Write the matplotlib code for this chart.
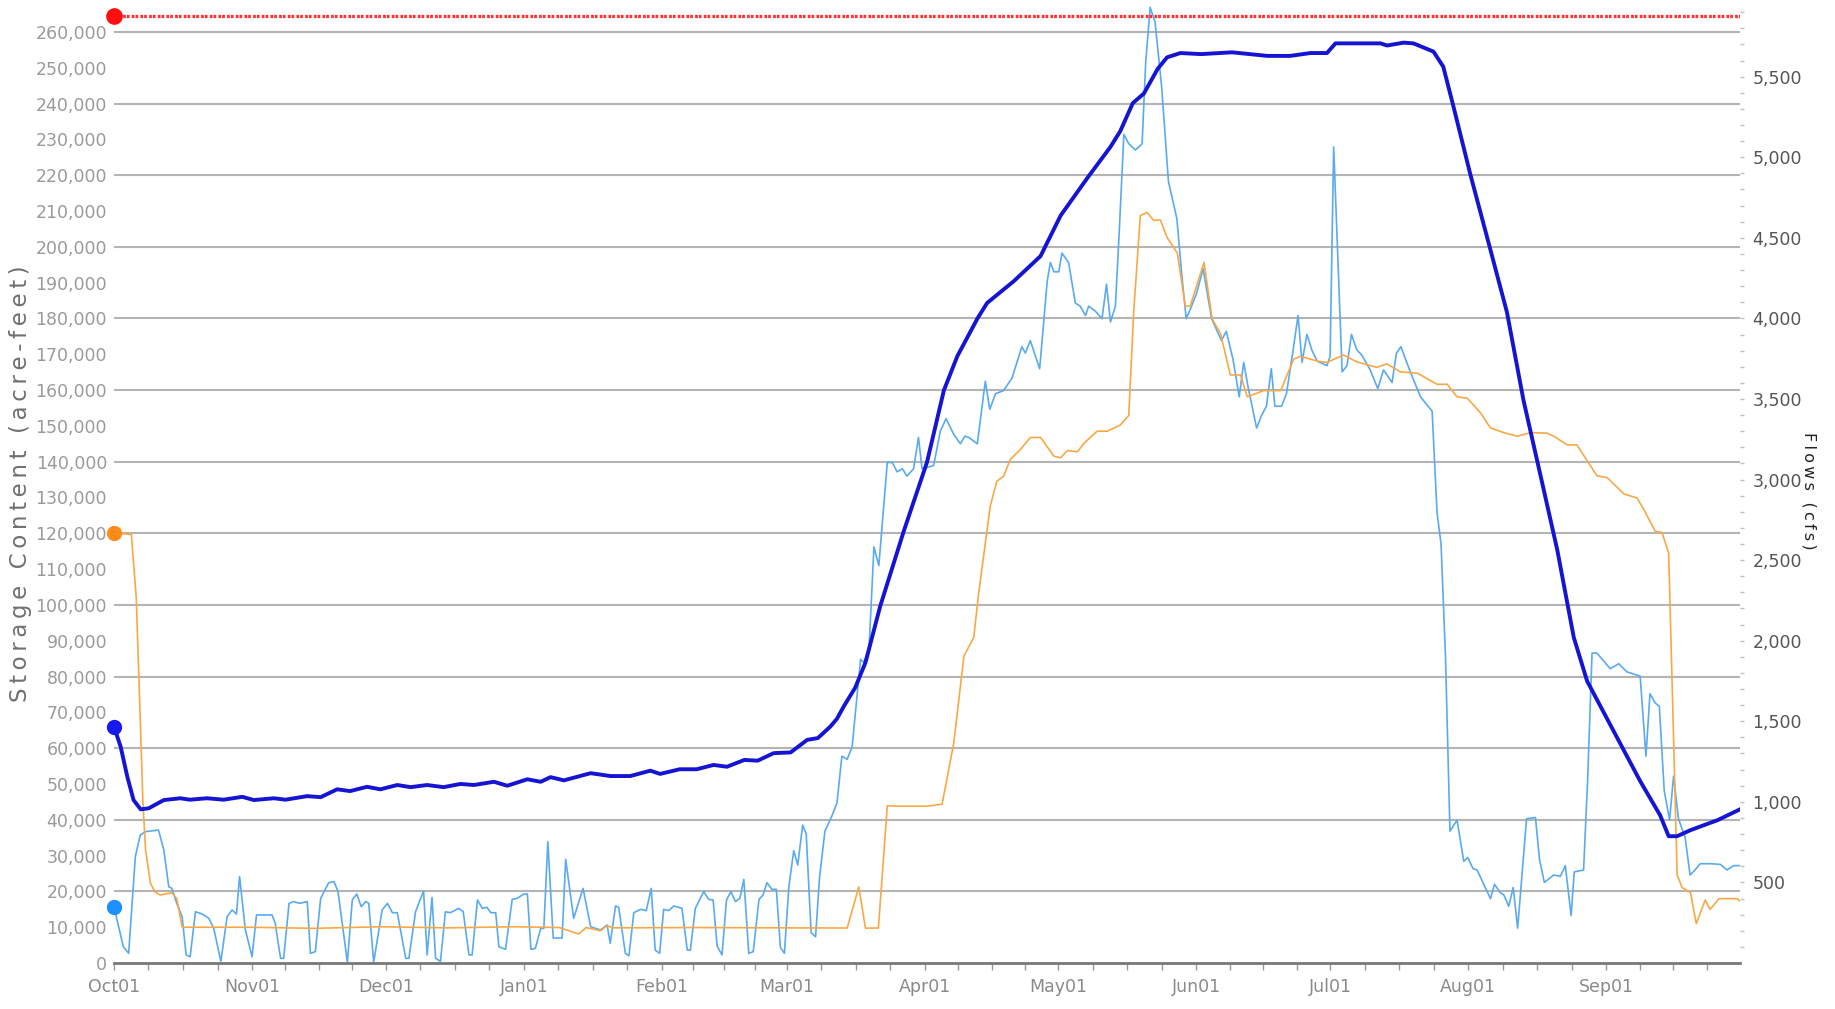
import calendar
from datetime import datetime, timedelta

import numpy as np
import matplotlib
matplotlib.use("Agg")
import matplotlib.pyplot as plt
import matplotlib.dates as mdates
from matplotlib.ticker import MultipleLocator, FuncFormatter, FixedLocator

# water year starts Oct 1 (x values are days since Oct 1)
start = datetime(2018, 10, 1)

# reservoir storage (acre-feet), left axis
storage_day = [0, 1.5, 3, 4.4, 6, 7.8, 11.2, 14.9, 17, 20.9, 24.6, 28.8, 31.4, 35.9, 38.5,
               43.4, 46.4, 50.1, 53, 56.8, 59.8, 63.6, 66.6, 70.3, 74, 77.8, 80.8, 85.3,
               88.3, 92.8, 95.8, 98, 101, 107, 111.5, 115.9, 120.4, 122.6, 127, 130.8,
               134.6, 137.6, 141.5, 144.5, 148.1, 151.9, 155.6, 158, 160.8, 162.3, 163.8,
               166.4, 168.7, 172, 177.3, 182.5, 186.3, 189.3, 193.8, 196, 202, 208, 212.5,
               218.5, 223.7, 225.9, 228.7, 231.2, 234.3, 236.4, 239.4, 244, 251, 258.9,
               264, 268.6, 272.3, 274.2, 284.3, 285.8, 289.5, 291.7, 296.2, 298.4, 300.7,
               304.5, 309, 312.7, 316.4, 320.2, 324, 327.7, 330.7, 335.9, 342.6, 347.1,
               349, 350.9, 353.9, 360, 365]
storage_af = [66000, 60400, 52000, 45500, 42900, 43200, 45500, 46000, 45600, 46000, 45600,
              46400, 45500, 46000, 45600, 46600, 46300, 48500, 48000, 49200, 48500, 49700,
              49100, 49700, 49100, 50000, 49700, 50600, 49500, 51300, 50600, 51900, 51000,
              53000, 52200, 52200, 53700, 52800, 54100, 54100, 55300, 54800, 56700, 56500,
              58600, 58800, 62300, 62800, 66000, 68200, 71600, 76900, 83900, 99600, 120600,
              139800, 159900, 169400, 179900, 184300, 190400, 197400, 208700, 219200,
              227900, 232300, 240100, 242800, 249700, 252900, 254100, 253800, 254300,
              253300, 253300, 254100, 254100, 256800, 256800, 256200, 257000, 256800,
              254500, 250300, 239100, 220100, 199100, 181700, 157200, 136300, 115300,
              90900, 78700, 66500, 50800, 41200, 35400, 35400, 37100, 39900, 42900]

# top of conservation pool (acre-feet)
capacity_af = 264500

# outflow (cfs), right axis
outflow_day = [0, 3.9, 5, 5.8, 6.5, 7.1, 8.2, 9.2, 10.4, 13, 14.1, 15.3, 16, 30, 45, 60, 75,
               90, 100, 104.3, 106, 109.2, 110.7, 112, 130, 150, 164.6, 167.2, 168.7, 171.6,
               173.6, 175.9, 182.5, 185.9, 188.5, 190.8, 193, 194.1, 196.7, 198.2, 199.7,
               201.2, 203.4, 205.7, 208, 211, 212.5, 214, 216.3, 217.8, 220.7, 223, 225.9,
               227.8, 228.9, 230.4, 231.9, 233.4, 234.9, 236.4, 238.7, 240.5, 241.6, 244.7,
               246.5, 248.4, 250.6, 252.9, 254.4, 258.1, 261.9, 264.8, 266.3, 270.1, 272.3,
               276, 279, 283.5, 285.7, 288.8, 292.6, 297, 299.3, 301.5, 303.8, 306.7, 309,
               312, 315, 318, 321.7, 323.2, 326.2, 328.4, 331.4, 332.9, 335.2, 338.9, 341.9,
               343.4, 346, 347.5, 349, 349.8, 350.9, 352, 353.9, 355.2, 357.2, 358.3, 360.3,
               364.4, 365]
outflow_cfs = [2667, 2660, 2270, 1600, 1000, 700, 495, 440, 422, 436, 400, 225, 222, 222,
               215, 225, 218, 225, 220, 180, 220, 200, 232, 218, 220, 218, 217, 472, 216,
               217, 976, 973, 973, 985, 1362, 1904, 2020, 2292, 2835, 2990, 3020, 3125,
               3184, 3261, 3261, 3145, 3135, 3180, 3172, 3227, 3300, 3300, 3339, 3397, 4037,
               4638, 4657, 4608, 4611, 4502, 4406, 4076, 4076, 4347, 3998, 3905, 3649, 3649,
               3513, 3552, 3552, 3746, 3765, 3735, 3727, 3773, 3730, 3696, 3718, 3668, 3660,
               3591, 3591, 3513, 3505, 3416, 3320, 3291, 3269, 3291, 3288, 3269, 3215, 3215,
               3087, 3023, 3012, 2912, 2885, 2815, 2679, 2671, 2544, 1710, 546, 469, 437,
               244, 391, 333, 399, 399, 384]

# inflow (cfs), right axis
inflow_day = [0, 2.1, 3.3, 4.8, 5.9, 7.1, 10, 11.2, 12.3, 13, 14.1, 15.3, 16.2, 17.1, 18.3,
              19.8, 21.3, 22.4, 24, 25.4, 26.5, 27.5, 28.2, 29.5, 31, 32, 35.5, 36.2, 37.4,
              38.1, 39.3, 40.4, 41.7, 43.4, 44.1, 45.2, 46.4, 48.2, 49.4, 50.3, 52.4, 53.5,
              54.5, 55.5, 56.5, 57.2, 58.3, 60.2, 61.4, 62.5, 63.6, 65.5, 66.2, 67.7, 69.5,
              70.3, 71.4, 72.2, 73.3, 74.4, 75.5, 77.4, 78.4, 79.7, 80.4, 81.6, 82.7, 83.7,
              84.6, 85.7, 86.4, 87.9, 89.4, 90.5, 92, 92.8, 93.6, 94.6, 95.8, 96.5, 97.4,
              98.6, 100.6, 101.4, 103.2, 105.3, 107, 109.2, 110.7, 111.4, 112.6, 113.3,
              114.8, 115.6, 116.7, 118.2, 119.5, 120.6, 121.5, 122.5, 123.4, 124.5, 125.7,
              127.5, 128.7, 129.4, 130.5, 132.4, 133.5, 134.5, 135.4, 136.5, 137.5, 138.5,
              139.5, 140.5, 141.4, 142.5, 143.5, 144.8, 145.7, 146.6, 147.7, 148.7, 149.6,
              150.5, 151.5, 152.6, 153.5, 154.6, 155.4, 156.5, 157.5, 158.4, 159.6, 161.2,
              162.3, 163.4, 164.6, 165.7, 167.6, 168.3, 169.5, 170.6, 171.7, 173.6, 174.7,
              175.8, 177, 178, 179.5, 180.6, 181.4, 182.5, 184, 185.5, 186.8, 188.5, 190,
              191, 191.9, 193.8, 195.6, 196.6, 197.9, 199.7, 201.6, 203.8, 204.6, 205.7,
              207.8, 209.5, 210.2, 211, 212.1, 212.8, 214.3, 215.8, 216.9, 218.1, 218.8,
              220.3, 221.8, 222.8, 223.7, 224.8, 225.6, 226.7, 227.8, 229.3, 230.8, 231.6,
              232.6, 233.7, 235.2, 236.7, 238.6, 239.7, 240.7, 241.9, 243, 244.5, 246.4,
              248.6, 249.7, 251.2, 252.6, 253.6, 254.6, 256.5, 257.6, 258.7, 259.8, 260.6,
              262.1, 263.2, 264.7, 265.8, 266.7, 267.8, 268.9, 270.1, 272.3, 273, 273.8,
              275.7, 276.8, 277.8, 279, 280.1, 282, 283.7, 285, 286.9, 287.9, 288.9, 291,
              293.3, 295.9, 297, 297.9, 298.9, 299.9, 301.5, 303, 303.9, 305.1, 306, 309,
              309.9, 311.2, 312, 313.1, 314.1, 315.1, 317.1, 319.1, 320, 321.1, 323.2, 324.7,
              325.8, 327.1, 327.8, 329.9, 330.8, 331.8, 332.9, 335.9, 337.8, 339.6, 342.6,
              343.9, 344.8, 346, 346.9, 348, 349.2, 350.1, 351.2, 352.7, 353.8, 354.9, 356.1,
              358.3, 360.6, 362.1, 363.6, 365]
inflow_cfs = [350, 101, 60, 660, 794, 815, 825, 701, 473, 463, 370, 287, 50, 39, 318, 304,
              277, 215, 10, 287, 329, 304, 536, 205, 39, 298, 298, 246, 29, 29, 370, 381, 370,
              381, 60, 70, 401, 498, 505, 443, 4, 391, 428, 350, 381, 370, 4, 329, 370, 312,
              312, 29, 29, 318, 447, 50, 407, 29, 10, 318, 312, 339, 318, 50, 50, 391, 339,
              346, 312, 312, 101, 85, 395, 401, 428, 428, 85, 91, 215, 215, 753, 155, 155,
              643, 277, 463, 225, 205, 236, 122, 354, 346, 60, 45, 312, 333, 325, 463, 80, 60,
              333, 325, 354, 339, 80, 80, 339, 443, 395, 391, 105, 50, 391, 443, 381, 401,
              519, 60, 70, 395, 422, 498, 457, 457, 97, 60, 473, 697, 608, 856, 800, 188, 163,
              536, 818, 915, 993, 1283, 1264, 1341, 1884, 1865, 1950, 2582, 2466, 3106, 3106,
              3048, 3067, 3021, 3067, 3261, 3067, 3075, 3087, 3300, 3378, 3281, 3222, 3269,
              3261, 3222, 3610, 3436, 3533, 3552, 3630, 3824, 3785, 3862, 3688, 4231, 4347,
              4289, 4289, 4405, 4347, 4095, 4076, 4018, 4076, 4045, 3998, 4212, 3978, 4076,
              4502, 5142, 5084, 5045, 5084, 5588, 5930, 5840, 5433, 4851, 4619, 4270, 3998,
              4076, 4153, 4308, 3998, 3862, 3920, 3746, 3513, 3727, 3572, 3320, 3397, 3455,
              3688, 3455, 3455, 3533, 3804, 4018, 3727, 3901, 3804, 3735, 3707, 3765, 5064,
              3668, 3707, 3901, 3804, 3773, 3680, 3564, 3680, 3602, 3785, 3824, 3668, 3513,
              3424, 2796, 2602, 1904, 818, 887, 631, 655, 585, 577, 399, 488, 437, 422, 352,
              469, 216, 895, 903, 643, 500, 546, 538, 604, 294, 565, 577, 1128, 1923, 1923,
              1826, 1857, 1807, 1780, 1283, 1671, 1613, 1593, 1070, 887, 1159, 895, 779, 546,
              577, 616, 616, 612, 577, 604, 604]

AF_PER_CFS = 45  # ratio between the two y scales


def to_dates(days):
    return mdates.date2num(start) + np.asarray(days, dtype=float)


fig = plt.figure(figsize=(18.35, 10.09), dpi=100)
ax2 = fig.add_axes([0.0621, 0.0456, 0.8861, 0.9494])
ax = ax2.twinx()
ax.set_zorder(ax2.get_zorder() + 1)
ax.patch.set_visible(False)

y_top = 267500
ax.set_ylim(0, y_top)
ax2.set_ylim(0, y_top / AF_PER_CFS)
x0 = mdates.date2num(start)
ax2.set_xlim(x0, x0 + 365)

# grid lines every 20,000 af
for v in range(20000, 260001, 20000):
    ax2.axhline(v / AF_PER_CFS, color="#b4b4b4", lw=1.5, zorder=0)

# flows
ax2.plot(to_dates(inflow_day), inflow_cfs, color="#5aaaf0", lw=1.2, zorder=2)
ax2.plot(to_dates(outflow_day), outflow_cfs, color="#f8a848", lw=1.2, zorder=3)
ax2.plot(to_dates(inflow_day[:1]), inflow_cfs[:1], "o", color="#1e8fff", ms=10,
         clip_on=False, zorder=5)
ax2.plot(to_dates(outflow_day[:1]), outflow_cfs[:1], "o", color="#ff8c1a", ms=10,
         clip_on=False, zorder=5)

# storage and capacity
ax.plot(ax2.get_xlim(), [capacity_af, capacity_af], color="#ff3030", lw=2.4,
        dashes=(0.8, 0.3, 0.8, 0.7), zorder=3)
ax.plot(to_dates(storage_day), storage_af, color="#1414d2", lw=2.8, zorder=4)
ax.plot(to_dates(storage_day[:1]), storage_af[:1], "o", color="#1818f0", ms=10,
        clip_on=False, zorder=6)
ax.plot([x0], [capacity_af], "o", color="#ff1010", ms=11, clip_on=False, zorder=6)

# the twin holds the storage labels on the left side
ax.yaxis.tick_left()
ax.yaxis.set_major_locator(MultipleLocator(10000))
ax.yaxis.set_major_formatter(FuncFormatter(lambda v, p: f"{int(v):,}"))
ax.tick_params(axis="y", length=0, pad=5, labelsize=12.5, labelcolor="#9a9a9a")

ax2.yaxis.tick_right()
ax2.yaxis.set_major_locator(FixedLocator(range(500, 5501, 500)))
ax2.yaxis.set_minor_locator(FixedLocator(range(100, 6000, 100)))
ax2.yaxis.set_major_formatter(FuncFormatter(lambda v, p: f"{int(v):,}"))
ax2.tick_params(axis="y", which="both", direction="out", length=3, width=1,
                color="#c0c0c0", pad=6, labelsize=12.5, labelcolor="#555555")

# months on x, with quarter-month minor ticks
months, quarters = [], []
d = start
for _ in range(12):
    n = calendar.monthrange(d.year, d.month)[1]
    months.append(mdates.date2num(d))
    for k in range(1, 4):
        quarters.append(mdates.date2num(d) + n * k / 4)
    d = d + timedelta(days=n)
ax2.xaxis.set_major_locator(FixedLocator(months))
ax2.xaxis.set_minor_locator(FixedLocator(quarters))
ax2.xaxis.set_major_formatter(mdates.DateFormatter("%b%d"))
ax2.tick_params(axis="x", which="both", direction="out", length=5, width=1,
                color="#999999", pad=6, labelsize=12.5, labelcolor="#8a8a8a")
ax.tick_params(axis="x", bottom=False, labelbottom=False)

for a in (ax, ax2):
    for s in a.spines.values():
        s.set_visible(False)
ax2.spines["bottom"].set_visible(True)
ax2.spines["bottom"].set_color("#777777")
ax2.spines["bottom"].set_linewidth(2)

fig.text(0.011, 0.521, "\u2009".join("Storage Content (acre-feet)"), rotation=90,
         ha="center", va="center", fontsize=16.5, color="#707070")
fig.text(0.986, 0.514, "\u2009".join("Flows (cfs)"), rotation=270,
         ha="center", va="center", fontsize=11.5, color="#222222")

fig.savefig("out.png", dpi=100, facecolor="white")
